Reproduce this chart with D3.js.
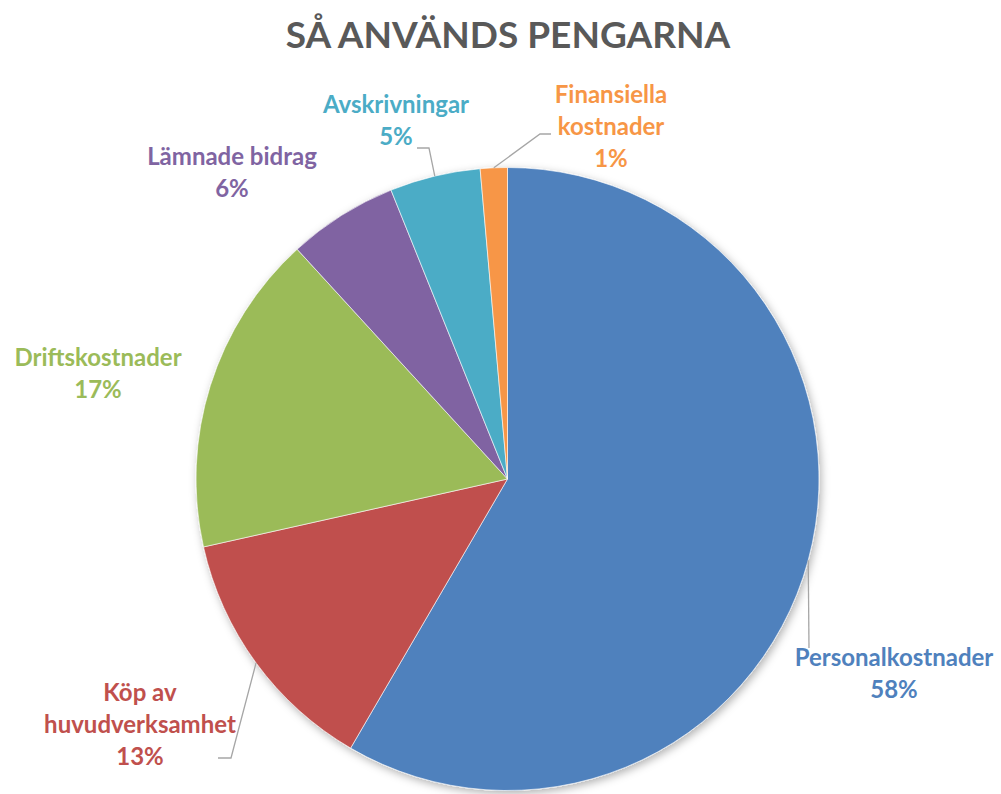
<!DOCTYPE html>
<html>
<head>
<meta charset="utf-8">
<script src="https://cdn.jsdelivr.net/npm/d3@7"></script>
<style>
  body { margin: 0; background: #fff; }
  text { font-family: Lato, "Open Sans", sans-serif; font-weight: 700; }
</style>
</head>
<body>
<div id="chart"></div>
<script>
// Data
var categories = ["Personalkostnader", "Köp av huvudverksamhet", "Driftskostnader",
                  "Lämnade bidrag", "Avskrivningar", "Finansiella kostnader"];
var values = [58.4, 13.1, 16.7, 5.7, 4.7, 1.4];
var colors = ["#4f81bd", "#c0504d", "#9bbb59", "#8064a2", "#4bacc6", "#f79646"];
// label text split in lines (as in the picture)
var labelLines = [["Personalkostnader"], ["Köp av", "huvudverksamhet"], ["Driftskostnader"],
                  ["Lämnade bidrag"], ["Avskrivningar"], ["Finansiella", "kostnader"]];

// Layout: label centre (x, first line y) and leader bend points
var labelPos = [[894, 658], [140, 693], [98, 358], [232, 157], [396, 105], [611, 95]];
var leaderEnds = [
  [[809, 648]],
  [[231, 758], [218, 758]],
  null,
  null,
  [[429, 148], [417, 148]],
  [[540, 134], [551, 134]]
];

var svgWidth = 1001;
var svgHeight = 794;
var cx = 507.5, cy = 479, radius = 311.5;
var lineH = 32;

var svg = d3.select("#chart")
  .append("svg")
  .attr("width", svgWidth)
  .attr("height", svgHeight);

var defs = svg.append("defs");
var filter = defs.append("filter").attr("id", "shadow")
  .attr("x", "-10%").attr("y", "-10%").attr("width", "120%").attr("height", "120%");
filter.append("feDropShadow")
  .attr("dx", 2).attr("dy", 3).attr("stdDeviation", 4)
  .attr("flood-color", "#000").attr("flood-opacity", 0.3);

// Title
svg.append("text")
  .attr("x", 508)
  .attr("y", 48)
  .attr("text-anchor", "middle")
  .attr("fill", "#595959")
  .style("font-size", "37px")
  .text("SÅ ANVÄNDS PENGARNA");

var pie = d3.pie().sort(null).value(d => d);
var arcs = pie(values);
var arc = d3.arc().innerRadius(0).outerRadius(radius);

var pieGroup = svg.append("g")
  .attr("transform", `translate(${cx}, ${cy})`)
  .attr("filter", "url(#shadow)");

pieGroup.selectAll("path")
  .data(arcs)
  .enter()
  .append("path")
  .attr("d", arc)
  .attr("fill", (d, i) => colors[i])
  .attr("stroke", "#fff")
  .attr("stroke-width", 0.6);

// Leader lines: start on the rim at the slice's mid angle
arcs.forEach(function(d, i) {
  if (!leaderEnds[i]) return;
  var mid = (d.startAngle + d.endAngle) / 2;
  var p = d3.pointRadial(mid, radius);
  var pts = [[cx + p[0], cy + p[1]]].concat(leaderEnds[i]);
  svg.append("path")
    .attr("d", d3.line()(pts))
    .attr("fill", "none")
    .attr("stroke", "#a6a6a6")
    .attr("stroke-width", 1.3);
});

// Labels
arcs.forEach(function(d, i) {
  var lines = labelLines[i].concat([Math.round(values[i]) + "%"]);
  var t = svg.append("text")
    .attr("text-anchor", "middle")
    .attr("fill", colors[i])
    .style("font-size", "24px");
  lines.forEach(function(s, j) {
    t.append("tspan")
      .attr("x", labelPos[i][0])
      .attr("y", labelPos[i][1] + j * lineH + 8)
      .text(s);
  });
});
</script>
</body>
</html>
